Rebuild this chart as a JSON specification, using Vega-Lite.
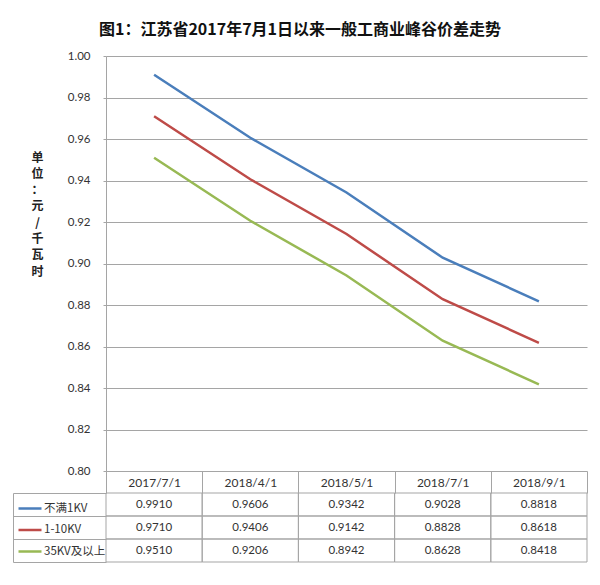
{
  "$schema": "https://vega.github.io/schema/vega-lite/v6.json",
  "autosize": {"type": "none"},
  "width": 481,
  "height": 506,
  "padding": {"left": 106, "top": 56, "right": 13, "bottom": 23},
  "background": "white",
  "title": {
    "text": "图1：江苏省2017年7月1日以来一般工商业峰谷价差走势",
    "anchor": "middle",
    "frame": "group",
    "dx": -46.5,
    "offset": 12,
    "font": "Noto Sans CJK SC",
    "fontSize": 16,
    "fontWeight": "bold",
    "color": "#111111"
  },
  "config": {"view": {"stroke": null}, "font": "Lato"},
  "data": {
    "values": [
      {"date": "2017/7/1", "series": "不满1KV", "value": 0.9910},
      {"date": "2018/4/1", "series": "不满1KV", "value": 0.9606},
      {"date": "2018/5/1", "series": "不满1KV", "value": 0.9342},
      {"date": "2018/7/1", "series": "不满1KV", "value": 0.9028},
      {"date": "2018/9/1", "series": "不满1KV", "value": 0.8818},
      {"date": "2017/7/1", "series": "1-10KV", "value": 0.9710},
      {"date": "2018/4/1", "series": "1-10KV", "value": 0.9406},
      {"date": "2018/5/1", "series": "1-10KV", "value": 0.9142},
      {"date": "2018/7/1", "series": "1-10KV", "value": 0.8828},
      {"date": "2018/9/1", "series": "1-10KV", "value": 0.8618},
      {"date": "2017/7/1", "series": "35KV及以上", "value": 0.9510},
      {"date": "2018/4/1", "series": "35KV及以上", "value": 0.9206},
      {"date": "2018/5/1", "series": "35KV及以上", "value": 0.8942},
      {"date": "2018/7/1", "series": "35KV及以上", "value": 0.8628},
      {"date": "2018/9/1", "series": "35KV及以上", "value": 0.8418}
    ]
  },
  "encoding": {
    "x": {
      "field": "date",
      "type": "nominal",
      "sort": ["2017/7/1", "2018/4/1", "2018/5/1", "2018/7/1", "2018/9/1"],
      "scale": {"paddingInner": 0, "paddingOuter": 0},
      "axis": {
        "orient": "bottom",
        "offset": -91,
        "title": null,
        "domain": false,
        "grid": false,
        "tickBand": "extent",
        "tickSize": 22,
        "tickColor": "#a5a5a5",
        "labelAngle": 0,
        "labelPadding": -11,
        "labelBaseline": "middle",
        "labelFont": "Lato",
        "labelFontSize": 12,
        "labelColor": "#333333"
      }
    }
  },
  "layer": [
    {
      "mark": {"type": "line", "strokeWidth": 2.5},
      "encoding": {
        "y": {
          "field": "value",
          "type": "quantitative",
          "scale": {"domain": [0.8, 1.0], "range": [415, 0], "zero": false, "nice": false},
          "axis": {
            "orient": "left",
            "values": [0.8, 0.82, 0.84, 0.86, 0.88, 0.9, 0.92, 0.94, 0.96, 0.98, 1.0],
            "format": ".2f",
            "grid": true,
            "gridColor": "#a5a5a5",
            "domainColor": "#a5a5a5",
            "tickColor": "#a5a5a5",
            "tickSize": 3,
            "labelPadding": 13,
            "labelFont": "Lato",
            "labelFontSize": 11.5,
            "labelColor": "#333333",
            "title": ["单", "位", "：", "元", "/", "千", "瓦", "时"],
            "titleAngle": 0,
            "titleX": -69,
            "titleY": 101,
            "titleAlign": "center",
            "titleBaseline": "middle",
            "titleLineHeight": 16.3,
            "titleFont": "Noto Sans CJK SC",
            "titleFontSize": 12,
            "titleFontWeight": "bold",
            "titleColor": "#222222"
          }
        },
        "color": {
          "field": "series",
          "type": "nominal",
          "scale": {
            "domain": ["不满1KV", "1-10KV", "35KV及以上"],
            "range": ["#4A7EBB", "#BE4B48", "#98B954"]
          },
          "legend": {
            "orient": "none",
            "legendX": -89,
            "legendY": 439.5,
            "title": null,
            "padding": 0,
            "symbolType": "stroke",
            "symbolSize": 529,
            "symbolStrokeWidth": 2.5,
            "labelFont": "Noto Sans CJK SC",
            "labelFontSize": 11.5,
            "labelColor": "#333333",
            "labelOffset": 1,
            "rowPadding": 2.5
          }
        }
      }
    },
    {
      "mark": {"type": "rect", "fillOpacity": 0, "stroke": "#a5a5a5", "strokeWidth": 1},
      "encoding": {
        "y": {
          "field": "series",
          "type": "nominal",
          "scale": {"domain": ["不满1KV", "1-10KV", "35KV及以上"], "range": [437, 506], "paddingInner": 0, "paddingOuter": 0},
          "axis": {
            "orient": "left",
            "offset": 93,
            "domain": true,
            "domainColor": "#a5a5a5",
            "ticks": false,
            "labels": false,
            "grid": false,
            "title": null
          }
        }
      }
    },
    {
      "mark": {"type": "text", "font": "Lato", "fontSize": 11.5, "color": "#333333", "baseline": "middle"},
      "encoding": {
        "y": {
          "field": "series",
          "type": "nominal",
          "scale": {"domain": ["不满1KV", "1-10KV", "35KV及以上"], "range": [437, 506], "paddingInner": 0, "paddingOuter": 0},
          "axis": {
            "orient": "left",
            "domain": false,
            "labels": false,
            "ticks": true,
            "tickBand": "extent",
            "tickSize": 93,
            "tickColor": "#a5a5a5",
            "grid": false,
            "title": null
          }
        },
        "text": {"field": "value", "type": "quantitative", "format": ".4f"}
      }
    }
  ],
  "resolve": {"scale": {"y": "independent"}, "axis": {"y": "independent"}}
}
